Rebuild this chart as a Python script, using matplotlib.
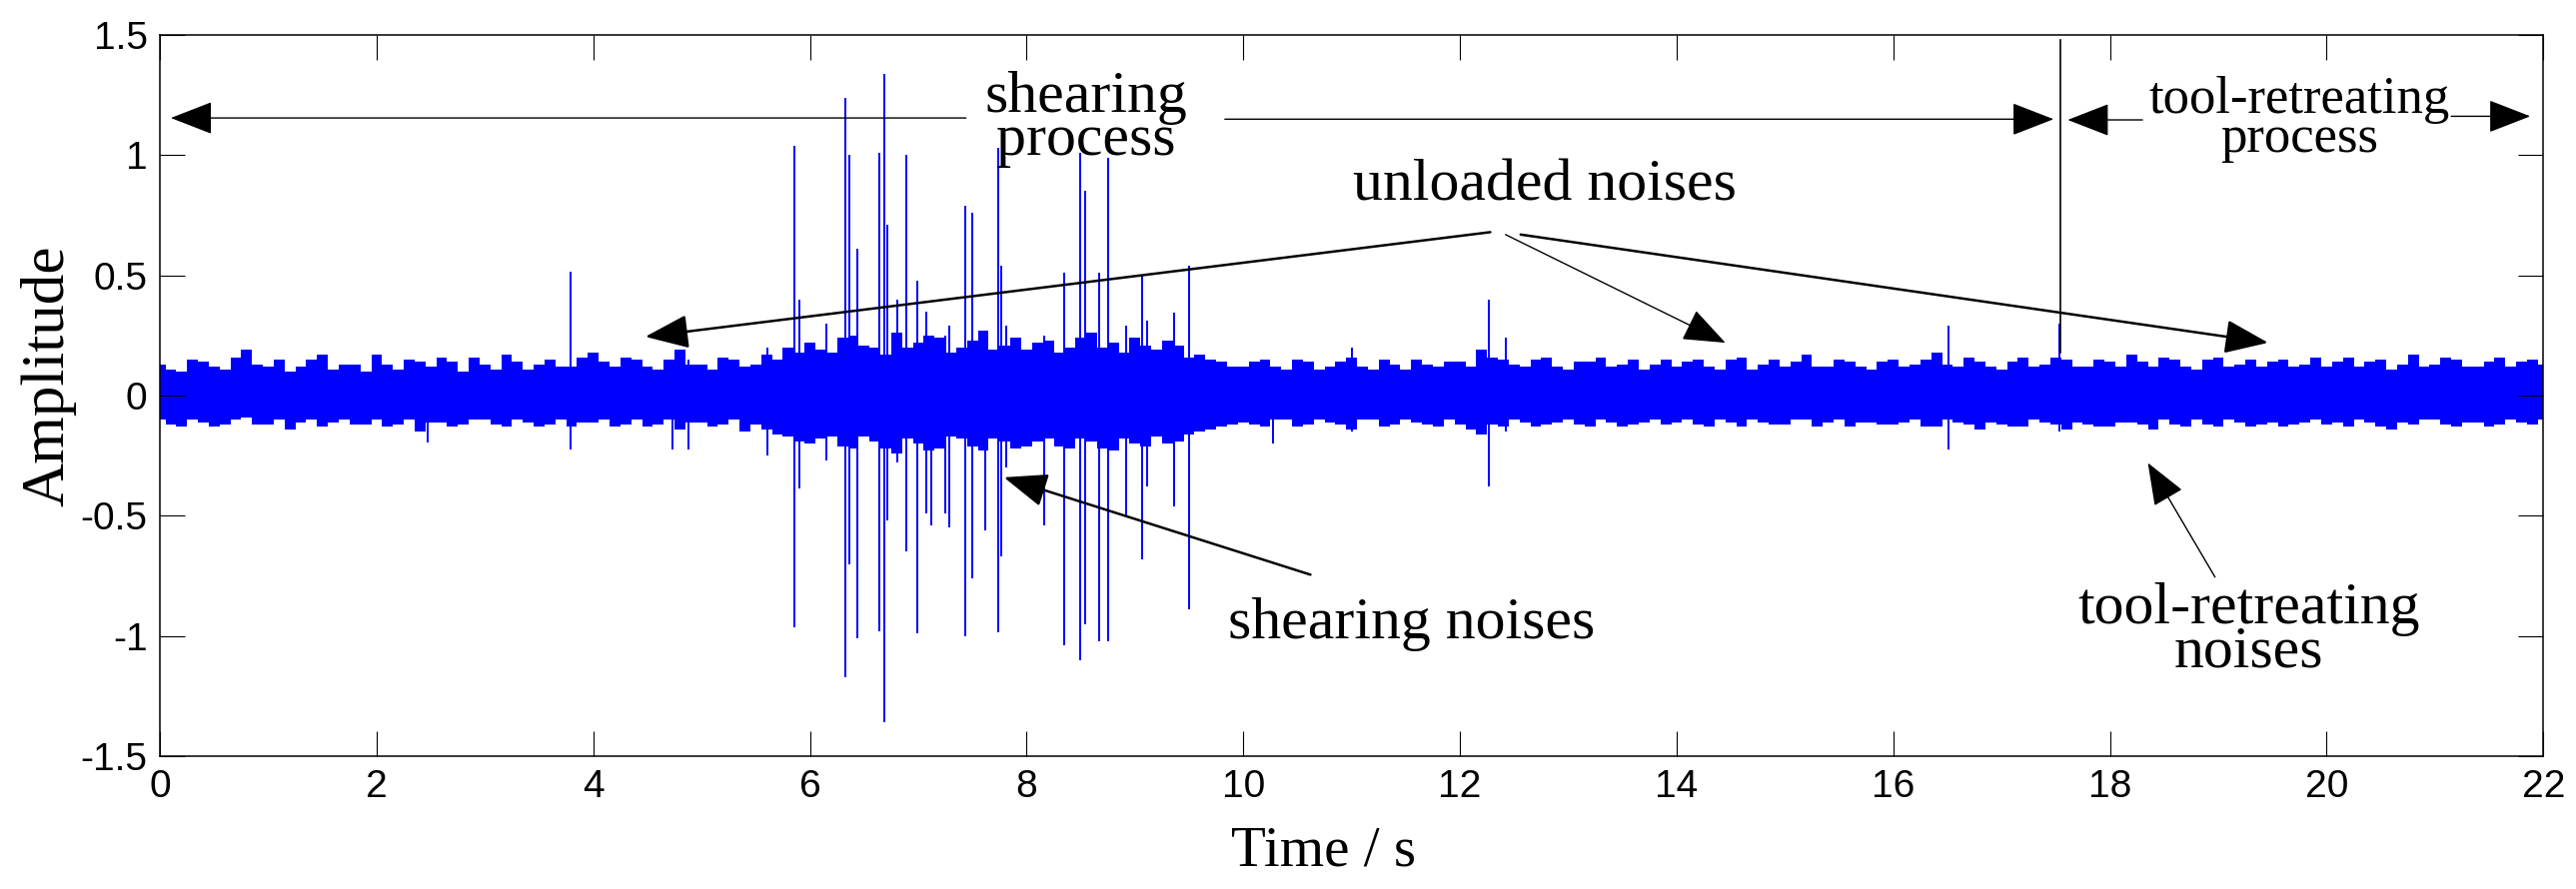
import numpy as np
import matplotlib
matplotlib.use("Agg")
import matplotlib.pyplot as plt

# noise band peaks on the even 0.2 s grid (0.0, 0.2, ... 22.0)
env_t = np.round(np.arange(111) * 0.2, 1)
env_hi = [0.13, 0.10, 0.14, 0.11, 0.19, 0.12, 0.10, 0.15, 0.11, 0.13,
          0.17, 0.11, 0.14, 0.16, 0.10, 0.13, 0.17, 0.11, 0.15, 0.12,
          0.18, 0.12, 0.15, 0.11, 0.19, 0.13, 0.16, 0.12, 0.17, 0.20,
          0.22, 0.18, 0.25, 0.20, 0.26, 0.22, 0.24, 0.20, 0.27, 0.21,
          0.19, 0.23, 0.20, 0.26, 0.22, 0.24, 0.19, 0.21, 0.17, 0.14,
          0.12, 0.15, 0.11, 0.14, 0.12, 0.16, 0.11, 0.13, 0.15, 0.12,
          0.14, 0.19, 0.15, 0.12, 0.16, 0.11, 0.14, 0.12, 0.15, 0.13,
          0.12, 0.15, 0.11, 0.16, 0.13, 0.12, 0.17, 0.12, 0.14, 0.11,
          0.15, 0.13, 0.18, 0.12, 0.14, 0.11, 0.16, 0.13, 0.15, 0.12,
          0.14, 0.17, 0.12, 0.15, 0.11, 0.16, 0.13, 0.12, 0.15, 0.13,
          0.12, 0.16, 0.14, 0.11, 0.17, 0.13, 0.15, 0.12, 0.16, 0.14,
          0.13]
env_lo = [-0.10, -0.13, -0.11, -0.12, -0.09, -0.12, -0.14, -0.10, -0.11, -0.12,
          -0.10, -0.12, -0.15, -0.11, -0.12, -0.10, -0.13, -0.11, -0.12, -0.13,
          -0.11, -0.13, -0.10, -0.12, -0.14, -0.11, -0.12, -0.15, -0.14, -0.17,
          -0.20, -0.17, -0.22, -0.19, -0.24, -0.20, -0.22, -0.18, -0.23, -0.19,
          -0.21, -0.18, -0.22, -0.19, -0.23, -0.20, -0.17, -0.19, -0.15, -0.13,
          -0.11, -0.13, -0.10, -0.12, -0.11, -0.14, -0.10, -0.12, -0.11, -0.13,
          -0.12, -0.16, -0.13, -0.11, -0.12, -0.10, -0.13, -0.11, -0.12, -0.10,
          -0.11, -0.12, -0.10, -0.13, -0.11, -0.12, -0.10, -0.11, -0.13, -0.11,
          -0.12, -0.10, -0.13, -0.11, -0.14, -0.12, -0.13, -0.11, -0.14, -0.12,
          -0.13, -0.11, -0.14, -0.12, -0.10, -0.13, -0.11, -0.12, -0.13, -0.11,
          -0.12, -0.13, -0.11, -0.14, -0.12, -0.10, -0.13, -0.11, -0.12, -0.11,
          -0.10]

# peaks on the odd grid (0.1, 0.3, ... 21.9)
env2_t = np.round(np.arange(110) * 0.2 + 0.1, 1)
env2_hi = [0.11, 0.15, 0.12, 0.16, 0.13, 0.15, 0.12, 0.17, 0.13, 0.10,
           0.13, 0.15, 0.12, 0.14, 0.16, 0.11, 0.14, 0.13, 0.12, 0.16,
           0.14, 0.16, 0.12, 0.15, 0.13, 0.11, 0.15, 0.13, 0.15, 0.18,
           0.19, 0.24, 0.21, 0.17, 0.20, 0.25, 0.18, 0.23, 0.19, 0.24,
           0.22, 0.18, 0.24, 0.20, 0.18, 0.21, 0.23, 0.16, 0.15, 0.12,
           0.14, 0.12, 0.15, 0.11, 0.14, 0.12, 0.15, 0.11, 0.13, 0.14,
           0.12, 0.16, 0.13, 0.15, 0.12, 0.14, 0.16, 0.13, 0.11, 0.15,
           0.14, 0.12, 0.15, 0.11, 0.15, 0.14, 0.12, 0.15, 0.12, 0.14,
           0.12, 0.15, 0.13, 0.16, 0.12, 0.14, 0.12, 0.16, 0.12, 0.15,
           0.12, 0.14, 0.16, 0.12, 0.15, 0.12, 0.15, 0.14, 0.12, 0.16,
           0.14, 0.12, 0.15, 0.13, 0.12, 0.16, 0.12, 0.14, 0.12, 0.15]
env2_lo = [-0.12, -0.10, -0.13, -0.10, -0.12, -0.10, -0.11, -0.13, -0.10, -0.12,
           -0.13, -0.10, -0.11, -0.13, -0.10, -0.12, -0.10, -0.13, -0.10, -0.11,
           -0.10, -0.12, -0.13, -0.10, -0.11, -0.13, -0.10, -0.12, -0.16, -0.19,
           -0.18, -0.21, -0.17, -0.22, -0.18, -0.23, -0.17, -0.21, -0.18, -0.22,
           -0.19, -0.21, -0.18, -0.22, -0.18, -0.21, -0.20, -0.16, -0.14, -0.12,
           -0.12, -0.10, -0.13, -0.10, -0.12, -0.10, -0.13, -0.10, -0.12, -0.10,
           -0.14, -0.12, -0.10, -0.13, -0.11, -0.12, -0.10, -0.13, -0.11, -0.12,
           -0.10, -0.13, -0.11, -0.10, -0.12, -0.10, -0.13, -0.10, -0.11, -0.12,
           -0.11, -0.13, -0.10, -0.12, -0.11, -0.13, -0.10, -0.12, -0.11, -0.13,
           -0.11, -0.12, -0.10, -0.13, -0.12, -0.10, -0.13, -0.11, -0.12, -0.10,
           -0.11, -0.10, -0.13, -0.11, -0.10, -0.12, -0.11, -0.13, -0.10, -0.12]

# individual impulses (time, positive peak, negative peak)
spike_t = [2.47, 3.79, 4.73, 4.88, 5.61, 5.86, 5.90, 6.15, 6.33, 6.36,
           6.44, 6.64, 6.69, 6.71, 6.81, 6.89, 6.99, 7.07, 7.12, 7.25,
           7.29, 7.43, 7.50, 7.62, 7.74, 7.77, 7.81, 8.16, 8.35, 8.49,
           8.54, 8.67, 8.75, 8.92, 9.07, 9.11, 9.36, 9.50, 10.27, 11.0,
           12.27, 12.42, 16.51, 17.53]
spike_hi = [0.12, 0.515, 0.15, 0.15, 0.20, 1.04, 0.40, 0.30, 1.24, 1.00,
            0.61, 1.01, 1.34, 0.71, 0.40, 1.00, 0.48, 0.35, 0.20, 0.25,
            0.29, 0.79, 0.76, 0.22, 1.03, 0.54, 0.29, 0.25, 0.51, 1.01,
            0.85, 0.51, 0.99, 0.29, 0.50, 0.31, 0.345, 0.54, 0.12, 0.20,
            0.40, 0.24, 0.29, 0.30]
spike_lo = [-0.195, -0.225, -0.225, -0.225, -0.25, -0.965, -0.385, -0.27, -1.17, -0.70,
            -1.01, -0.98, -1.36, -0.52, -0.28, -0.65, -0.99, -0.49, -0.54, -0.49,
            -0.55, -1.00, -0.76, -0.56, -0.985, -0.67, -0.30, -0.54, -1.04, -1.10,
            -0.95, -1.02, -1.02, -0.50, -0.68, -0.38, -0.46, -0.89, -0.20, -0.15,
            -0.38, -0.15, -0.225, -0.15]

xticks = list(range(0, 23, 2))
yticks = [-1.5, -1, -0.5, 0, 0.5, 1, 1.5]
ytick_labels = ["-1.5", "-1", "-0.5", "0", "0.5", "1", "1.5"]

serif = "Liberation Serif"
sans = "Liberation Sans"

fig = plt.figure(figsize=(25.78, 8.9), dpi=100)
ax = fig.add_axes([0.0621, 0.1494, 0.9252, 0.8112])

# merge both grids in time order and draw the band as a stepped fill
band = sorted(zip(list(env_t) + list(env2_t), env_hi + env2_hi, env_lo + env2_lo))
band_t = [b[0] for b in band]
band_hi = [b[1] for b in band]
band_lo = [b[2] for b in band]
ax.fill_between(band_t, band_lo, band_hi, step="mid", color="blue", lw=0)
ax.vlines(spike_t, spike_lo, spike_hi, color="blue", lw=1.4)

# boundary between shearing and tool-retreating
ax.plot([17.54, 17.54], [1.48, 0.18], color="black", lw=1.2)

ax.set_xlim(0, 22)
ax.set_ylim(-1.5, 1.5)
ax.set_xticks(xticks)
ax.set_xticklabels([str(v) for v in xticks])
ax.set_yticks(yticks)
ax.set_yticklabels(ytick_labels)
ax.tick_params(direction="in", length=18, width=0.8, top=True, right=True,
               labelsize=28, pad=9)
for lab in ax.get_xticklabels() + ax.get_yticklabels():
    lab.set_fontfamily(sans)
for sp in ax.spines.values():
    sp.set_linewidth(1.1)

ax.set_xlabel("Time / s", fontsize=41, fontfamily=serif)
ax.xaxis.label.set_va("baseline")
ax.xaxis.set_label_coords(0.488, -0.152)
ax.set_ylabel("Amplitude", fontsize=44, fontfamily=serif)
ax.yaxis.label.set_va("center")
ax.yaxis.set_label_coords(-0.047, 0.528)

thick = dict(arrowstyle="-|>,head_length=0.9,head_width=0.35", color="black",
             lw=1.8, mutation_scale=30, shrinkA=0, shrinkB=0)
thin = dict(arrowstyle="-|>,head_length=0.9,head_width=0.35", color="black",
            lw=1.0, mutation_scale=30, shrinkA=0, shrinkB=0)

# shearing process
ax.annotate("", xy=(0.1, 1.155), xytext=(7.44, 1.155), arrowprops=thin)
ax.annotate("", xy=(17.48, 1.15), xytext=(9.83, 1.15), arrowprops=thin)
ax.text(8.55, 1.15, "shearing\nprocess", fontsize=43, fontfamily=serif,
        ha="center", va="center", linespacing=0.72)

# tool-retreating process
ax.annotate("", xy=(17.61, 1.147), xytext=(18.3, 1.147), arrowprops=thin)
ax.annotate("", xy=(21.88, 1.162), xytext=(21.15, 1.162), arrowprops=thin)
ax.text(19.75, 1.15, "tool-retreating\nprocess", fontsize=38, fontfamily=serif,
        ha="center", va="center", linespacing=0.75)

# unloaded noises
ax.text(12.78, 0.87, "unloaded noises", fontsize=43, fontfamily=serif,
        ha="center", va="center")
ax.annotate("", xy=(4.48, 0.245), xytext=(12.28, 0.68), arrowprops=thick)
ax.annotate("", xy=(14.45, 0.22), xytext=(12.42, 0.67), arrowprops=thin)
ax.annotate("", xy=(19.46, 0.22), xytext=(12.56, 0.67), arrowprops=thick)

# shearing noises
ax.annotate("", xy=(7.79, -0.34), xytext=(10.62, -0.745), arrowprops=thick)
ax.text(11.55, -0.95, "shearing noises", fontsize=43, fontfamily=serif,
        ha="center", va="center")

# tool-retreating noises
ax.annotate("", xy=(18.35, -0.28), xytext=(18.97, -0.755), arrowprops=thin)
ax.text(19.28, -0.98, "tool-retreating\nnoises", fontsize=43, fontfamily=serif,
        ha="center", va="center", linespacing=0.75)

fig.savefig("out.png", dpi=100)
